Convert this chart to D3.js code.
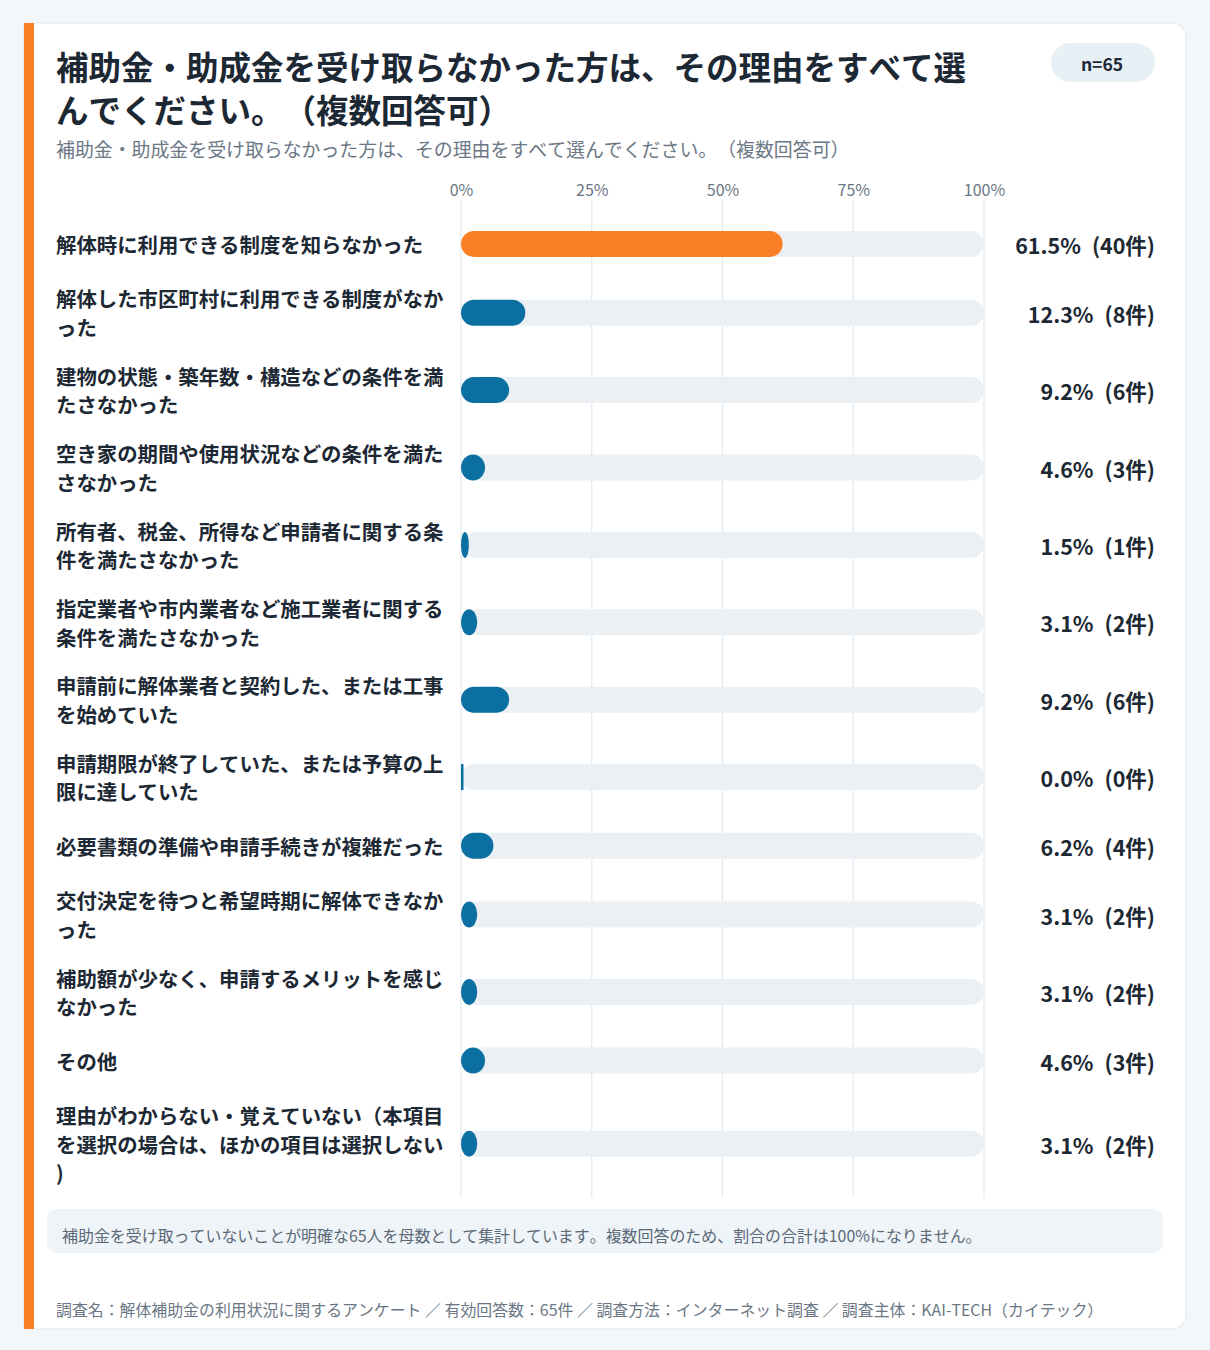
<!DOCTYPE html>
<html lang="ja">
<head>
<meta charset="utf-8">
<script src="https://cdn.jsdelivr.net/npm/d3@7/dist/d3.min.js"></script>
<style>
  html, body { margin: 0; padding: 0; background: #f4f7fa; }
  svg { display: block; font-family: "Noto Sans CJK JP", "Noto Sans", sans-serif; text-spacing-trim: space-all; font-kerning: none; }
  svg text { text-spacing-trim: space-all; }
</style>
</head>
<body>
<svg id="chart" width="1210" height="1350"></svg>
<script>
const titleText = "補助金・助成金を受け取らなかった方は、その理由をすべて選んでください。（複数回答可）";
const subtitleText = "補助金・助成金を受け取らなかった方は、その理由をすべて選んでください。（複数回答可）";
const sampleLabel = "n=65";
const categories = [
  "解体時に利用できる制度を知らなかった",
  "解体した市区町村に利用できる制度がなかった",
  "建物の状態・築年数・構造などの条件を満たさなかった",
  "空き家の期間や使用状況などの条件を満たさなかった",
  "所有者、税金、所得など申請者に関する条件を満たさなかった",
  "指定業者や市内業者など施工業者に関する条件を満たさなかった",
  "申請前に解体業者と契約した、または工事を始めていた",
  "申請期限が終了していた、または予算の上限に達していた",
  "必要書類の準備や申請手続きが複雑だった",
  "交付決定を待つと希望時期に解体できなかった",
  "補助額が少なく、申請するメリットを感じなかった",
  "その他",
  "理由がわからない・覚えていない（本項目を選択の場合は、ほかの項目は選択しない)"
];
const percents = [61.5, 12.3, 9.2, 4.6, 1.5, 3.1, 9.2, 0.0, 6.2, 3.1, 3.1, 4.6, 3.1];
const counts = [40, 8, 6, 3, 1, 2, 6, 0, 4, 2, 2, 3, 2];
const tickValues = [0, 25, 50, 75, 100];
const noteText = "補助金を受け取っていないことが明確な65人を母数として集計しています。複数回答のため、割合の合計は100%になりません。";
const footerText = "調査名：解体補助金の利用状況に関するアンケート ／ 有効回答数：65件 ／ 調査方法：インターネット調査 ／ 調査主体：KAI-TECH（カイテック）";

const svg = d3.select("#chart");
const W = 1210, H = 1350;

// background & card
svg.append("rect").attr("width", W).attr("height", H).attr("fill", "#f4f7fa");
const card = { x: 24, y: 23, w: 1162, h: 1306, r: 14 };
svg.append("path")
  .attr("d", `M${card.x},${card.y} H${card.x + card.w - card.r} A${card.r},${card.r} 0 0 1 ${card.x + card.w},${card.y + card.r} V${card.y + card.h - card.r} A${card.r},${card.r} 0 0 1 ${card.x + card.w - card.r},${card.y + card.h} H${card.x} Z`)
  .attr("fill", "#ffffff").attr("stroke", "#e1e7ec").attr("stroke-width", 1);
svg.append("rect").attr("x", card.x).attr("y", card.y).attr("width", 10).attr("height", card.h).attr("fill", "#f98026");

// wrap helper (character-level)
function wrapLines(text, maxWidth, fontSize, weight) {
  const t = svg.append("text").attr("font-size", fontSize).attr("font-weight", weight).attr("visibility", "hidden");
  const lines = [];
  let cur = "";
  for (const ch of Array.from(text)) {
    t.text(cur + ch);
    if (t.node().getComputedTextLength() > maxWidth && cur.length) {
      lines.push(cur);
      cur = ch;
    } else cur += ch;
  }
  if (cur) lines.push(cur);
  t.remove();
  return lines;
}

// title
const titleFont = 32.5;
const titleLines = wrapLines(titleText, 925, titleFont, 700);
svg.append("text").attr("font-size", titleFont).attr("font-weight", 700).attr("fill", "#1c2833")
  .selectAll("tspan").data(titleLines).join("tspan")
  .attr("x", 56).attr("y", (d, i) => 65 + i * 43).attr("dominant-baseline", "central").text(d => d);

svg.append("text").attr("x", 56).attr("y", 148).attr("dominant-baseline", "central")
  .attr("font-size", 18.9).attr("fill", "#6b7785").text(subtitleText);

// n pill
svg.append("rect").attr("x", 1051).attr("y", 43).attr("width", 104).attr("height", 39).attr("rx", 19.5).attr("fill", "#e7f0f5");
svg.append("text").attr("x", 1102).attr("y", 63).attr("text-anchor", "middle").attr("dominant-baseline", "central")
  .attr("font-size", 17.5).attr("font-weight", 700).attr("fill", "#1c2833").text(sampleLabel);

// scales
const x = d3.scaleLinear().domain([0, 100]).range([461, 984]);

// rows layout
const labelFont = 20.4, lineH = 28.7, minH = 40, gap = 20;
const rows = categories.map((c, i) => {
  const lines = wrapLines(c, 392, labelFont, 700);
  return { cat: c, lines, pct: percents[i], cnt: counts[i], h: Math.max(minH, lines.length * lineH) };
});
let yTop = 224;
rows.forEach(r => { r.top = yTop; r.cy = yTop + r.h / 2; yTop += r.h + gap; });
const chartBottom = yTop - gap + 11;

// gridlines
svg.append("g").selectAll("line").data(tickValues).join("line")
  .attr("x1", d => x(d)).attr("x2", d => x(d)).attr("y1", 200).attr("y2", chartBottom)
  .attr("stroke", "#e4e9ee").attr("stroke-width", 1.2);

// axis labels
const axis = svg.append("g").attr("transform", "translate(0,198)")
  .call(d3.axisTop(x).tickValues(tickValues).tickSize(0).tickPadding(0).tickFormat(d => d + "%"));
axis.select(".domain").remove();
axis.selectAll("text").attr("font-family", "\"Noto Sans CJK JP\", sans-serif").attr("font-size", 16).attr("fill", "#6b7785").attr("y", -9).attr("dy", 0).attr("dominant-baseline", "central");

const barH = 26;
const rowG = svg.append("g").selectAll("g").data(rows).join("g");

// labels
rowG.append("text").attr("font-size", labelFont).attr("font-weight", 700).attr("fill", "#1c2833")
  .selectAll("tspan").data(r => r.lines.map((l, i) => ({ l, i, r }))).join("tspan")
  .attr("x", 56)
  .attr("y", d => d.r.cy - (d.r.lines.length - 1) * lineH / 2 + d.i * lineH)
  .attr("dominant-baseline", "central")
  .text(d => d.l);

// tracks
rowG.append("rect")
  .attr("x", x(0)).attr("y", r => r.cy - barH / 2).attr("width", x(100) - x(0)).attr("height", barH)
  .attr("rx", barH / 2).attr("fill", "#ebf0f4");

// bars
rowG.append("rect")
  .attr("x", x(0)).attr("y", r => r.cy - barH / 2)
  .attr("width", r => Math.max(2.5, x(r.pct) - x(0)))
  .attr("height", barH)
  .attr("rx", r => Math.min(barH / 2, Math.max(0, (x(r.pct) - x(0)) / 2)))
  .attr("ry", barH / 2)
  .attr("fill", (r, i) => i === 0 ? "#f98026" : "#0b6fa1");

// values
const valText = rowG.append("text").attr("x", 1155).attr("y", r => r.cy).attr("text-anchor", "end").attr("dominant-baseline", "central")
  .attr("font-size", 21.5).attr("font-weight", 700).attr("fill", "#1c2833");
valText.append("tspan").text(r => `${r.pct.toFixed(1)}%`);
valText.append("tspan").attr("dx", 11).text(r => `(${r.cnt}件)`);

// note box
svg.append("rect").attr("x", 47).attr("y", 1209).attr("width", 1116).attr("height", 44).attr("rx", 10).attr("fill", "#eef4f8");
svg.append("text").attr("x", 62).attr("y", 1235).attr("dominant-baseline", "central")
  .attr("font-size", 15.95).attr("fill", "#5b6977").text(noteText);

// footer
svg.append("text").attr("x", 56).attr("y", 1309).attr("dominant-baseline", "central")
  .attr("font-size", 15.9).attr("fill", "#6b7785").text(footerText);
</script>
</body>
</html>
